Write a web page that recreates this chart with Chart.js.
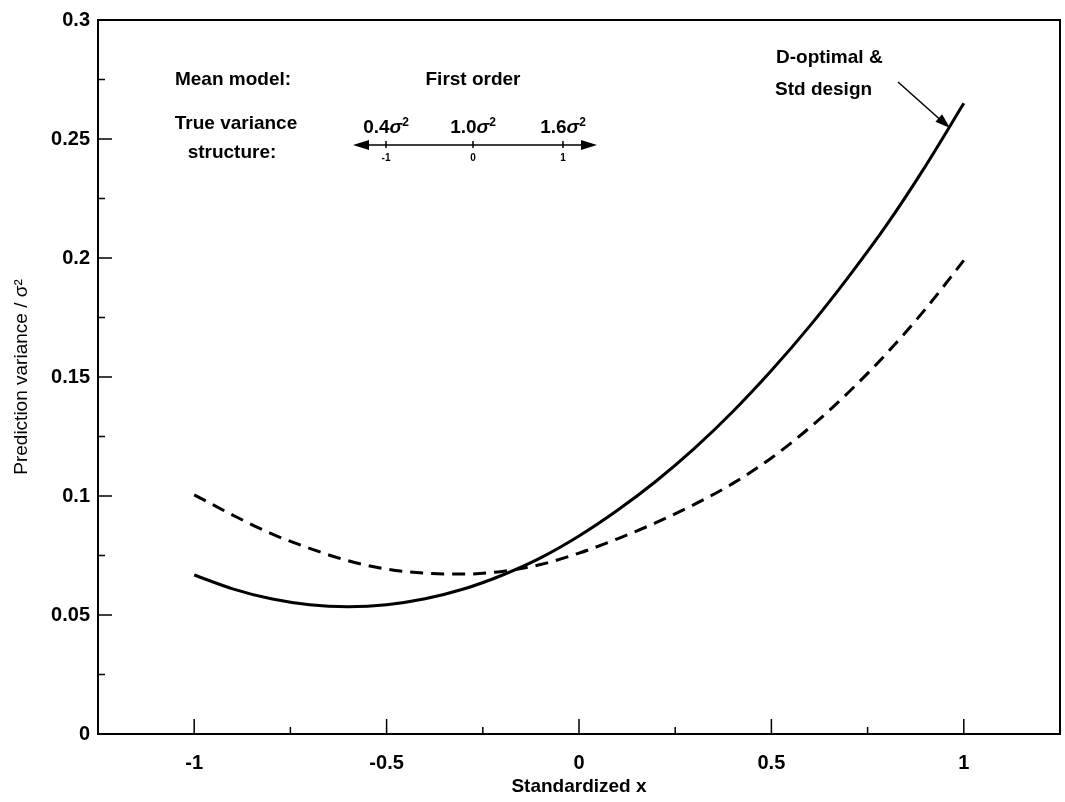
<!DOCTYPE html>
<html>
<head>
<meta charset="utf-8">
<script src="https://cdn.jsdelivr.net/npm/chart.js@4.4.1/dist/chart.umd.min.js"></script>
<style>
  html, body { margin: 0; padding: 0; background: #fff; }
  #wrap { width: 1065px; height: 802px; }
</style>
</head>
<body>
<div id="wrap"><canvas id="varChart" width="1065" height="802"></canvas></div>
<script>
// standardized x positions where the curves were read
const xValues = [-1, -0.9, -0.8, -0.7, -0.6, -0.5, -0.4, -0.3, -0.2, -0.1, 0,
                 0.1, 0.2, 0.3, 0.4, 0.5, 0.6, 0.7, 0.8, 0.9, 1];
// D-optimal & Std design (solid)
const solidVar = [0.0668, 0.0610, 0.0568, 0.0543, 0.0535, 0.0543, 0.0568, 0.0609, 0.0667, 0.0740, 0.0832,
                  0.0940, 0.1062, 0.1200, 0.1355, 0.1527, 0.1715, 0.1920, 0.2140, 0.2385, 0.2650];
// other design (dashed)
const dashedVar = [0.1005, 0.0920, 0.0842, 0.0780, 0.0728, 0.0693, 0.0676, 0.0672, 0.0683, 0.0712, 0.0760,
                   0.0820, 0.0888, 0.0965, 0.1053, 0.1160, 0.1288, 0.1435, 0.1600, 0.1785, 0.1990];

const xTicks = [-1, -0.5, 0, 0.5, 1];
const xMinorTicks = [-0.75, -0.25, 0.25, 0.75];
const yTicks = [0, 0.05, 0.1, 0.15, 0.2, 0.25, 0.3];
const yMinorTicks = [0.025, 0.075, 0.125, 0.175, 0.225, 0.275];

const FONT = "'Liberation Sans', Arial, Helvetica, sans-serif";

function pts(ys) {
    return xValues.map((x, i) => ({ x: x, y: ys[i] }));
}

// draw a line of text made of runs (for the italic sigma)
function drawRuns(ctx, runs, cx, cy) {
    let total = 0;
    runs.forEach(r => { ctx.font = r.font; total += ctx.measureText(r.text).width; });
    let x = cx - total / 2;
    runs.forEach(r => {
        ctx.font = r.font;
        ctx.fillText(r.text, x, cy + (r.dy || 0));
        x += ctx.measureText(r.text).width;
    });
}

function arrowHead(ctx, x1, y1, x2, y2, len, half) {
    const ang = Math.atan2(y2 - y1, x2 - x1);
    ctx.beginPath();
    ctx.moveTo(x2, y2);
    ctx.lineTo(x2 - len * Math.cos(ang) + half * Math.sin(ang), y2 - len * Math.sin(ang) - half * Math.cos(ang));
    ctx.lineTo(x2 - len * Math.cos(ang) - half * Math.sin(ang), y2 - len * Math.sin(ang) + half * Math.cos(ang));
    ctx.closePath();
    ctx.fill();
}

const framePlugin = {
    id: "framePlugin",
    afterDraw(chart) {
        const { ctx, chartArea: a, scales: { x, y } } = chart;
        ctx.save();
        ctx.strokeStyle = "#000";
        ctx.fillStyle = "#000";

        // box round the plot
        ctx.lineWidth = 2;
        ctx.strokeRect(a.left, a.top, a.right - a.left, a.bottom - a.top);

        // inward tick marks
        ctx.lineWidth = 1.5;
        ctx.beginPath();
        xTicks.forEach(v => { const p = x.getPixelForValue(v); ctx.moveTo(p, a.bottom); ctx.lineTo(p, a.bottom - 15); });
        xMinorTicks.forEach(v => { const p = x.getPixelForValue(v); ctx.moveTo(p, a.bottom); ctx.lineTo(p, a.bottom - 7); });
        yTicks.forEach(v => { const p = y.getPixelForValue(v); ctx.moveTo(a.left, p); ctx.lineTo(a.left + 14, p); });
        yMinorTicks.forEach(v => { const p = y.getPixelForValue(v); ctx.moveTo(a.left, p); ctx.lineTo(a.left + 7, p); });
        ctx.stroke();

        // legend-like text block
        ctx.textBaseline = "middle";
        ctx.textAlign = "left";
        const f = "bold 19px " + FONT;
        const fi = "italic bold 19px " + FONT;
        const fs = "bold 12px " + FONT;
        drawRuns(ctx, [{ text: "Mean model:", font: f }], 233, 80);
        drawRuns(ctx, [{ text: "First order", font: f }], 473, 80);
        drawRuns(ctx, [{ text: "True variance", font: f }], 236, 124);
        drawRuns(ctx, [{ text: "structure:", font: f }], 232, 153);
        [["0.4", 386], ["1.0", 473], ["1.6", 563]].forEach(([t, cx]) => {
            drawRuns(ctx, [{ text: t, font: f }, { text: "\u03c3", font: fi }, { text: "2", font: fs, dy: -5 }], cx, 128);
        });

        // double arrow scale
        ctx.lineWidth = 1.5;
        ctx.beginPath();
        ctx.moveTo(360, 145); ctx.lineTo(590, 145);
        [386, 473, 563].forEach(p => { ctx.moveTo(p, 141); ctx.lineTo(p, 148); });
        ctx.stroke();
        arrowHead(ctx, 400, 145, 353, 145, 16, 5);
        arrowHead(ctx, 550, 145, 597, 145, 16, 5);
        ctx.font = "bold 10px " + FONT;
        ctx.textAlign = "center";
        ctx.fillText("-1", 386, 158);
        ctx.fillText("0", 473, 158);
        ctx.fillText("1", 563, 158);

        // curve label with pointer
        ctx.textAlign = "left";
        ctx.font = f;
        ctx.fillText("D-optimal &", 776, 58);
        ctx.fillText("Std design", 775, 90);
        ctx.lineWidth = 1.5;
        ctx.beginPath();
        ctx.moveTo(898, 82); ctx.lineTo(944, 123);
        ctx.stroke();
        arrowHead(ctx, 898, 82, 950, 128, 15, 5);
        ctx.restore();
    }
};

const ctx = document.getElementById("varChart").getContext("2d");
const chart = new Chart(ctx, {
    type: "line",
    data: {
        datasets: [{
            label: "D-optimal & Std design",
            data: pts(solidVar),
            borderColor: "#000",
            borderWidth: 3,
            pointRadius: 0,
            cubicInterpolationMode: "monotone",
            fill: false
        }, {
            label: "Other design",
            data: pts(dashedVar),
            borderColor: "#000",
            borderWidth: 3,
            borderDash: [13, 8],
            pointRadius: 0,
            cubicInterpolationMode: "monotone",
            fill: false
        }]
    },
    options: {
        responsive: false,
        animation: false,
        layout: { padding: { top: 19, right: 5, bottom: 0, left: 0 } },
        plugins: { legend: { display: false }, tooltip: { enabled: false } },
        scales: {
            x: {
                type: "linear",
                min: -1.25,
                max: 1.25,
                afterBuildTicks: s => { s.ticks = xTicks.map(v => ({ value: v })); },
                afterFit: s => { s.height = 68; },
                grid: { display: false, drawTicks: false },
                border: { display: false },
                ticks: {
                    color: "#000",
                    font: { family: FONT, size: 20, weight: "bold" },
                    padding: 17,
                    maxRotation: 0,
                    callback: v => String(+v.toFixed(2))
                },
                title: {
                    display: true,
                    text: "Standardized x",
                    color: "#000",
                    font: { family: FONT, size: 19, weight: "bold" },
                    padding: { top: 0, bottom: 4 }
                }
            },
            y: {
                min: 0,
                max: 0.3,
                afterBuildTicks: s => { s.ticks = yTicks.map(v => ({ value: v })); },
                afterFit: s => { s.width = 98; },
                grid: { display: false, drawTicks: false },
                border: { display: false },
                ticks: {
                    color: "#000",
                    font: { family: FONT, size: 20, weight: "bold" },
                    padding: 8,
                    callback: v => String(+v.toFixed(3))
                },
                title: {
                    display: true,
                    text: "Prediction variance / \u03c3\u00b2",
                    color: "#000",
                    font: { family: FONT, size: 19 },
                    padding: { top: 10, bottom: 0 }
                }
            }
        }
    },
    plugins: [framePlugin]
});
</script>
</body>
</html>
